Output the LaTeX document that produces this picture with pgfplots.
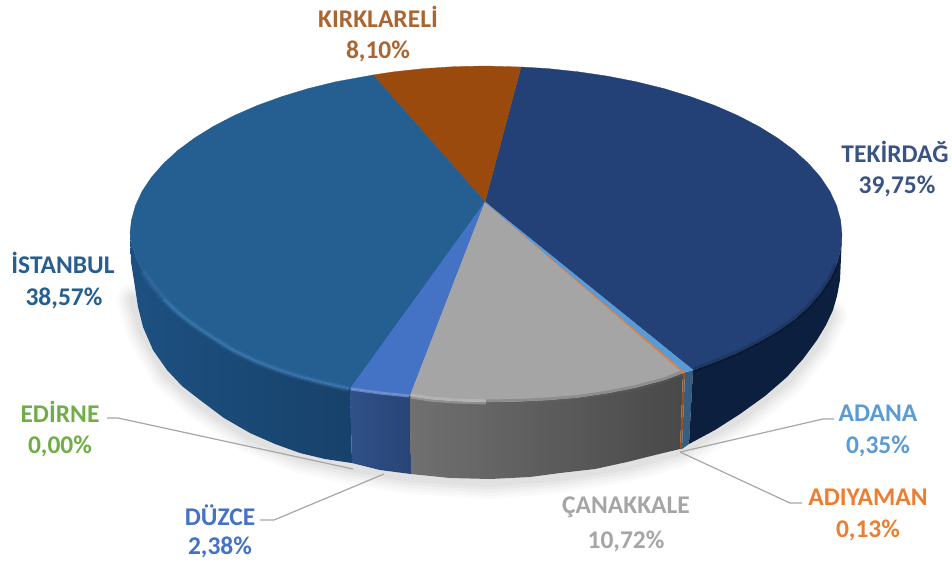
\documentclass[border=0pt]{standalone}
\usepackage{fontspec}
\setmainfont{Carlito}
\usepackage{pgfplots}
\pgfplotsset{compat=1.18}
\definecolor{tek}{HTML}{234176}
\definecolor{tekS}{HTML}{0D1F3E}
\definecolor{kir}{HTML}{9B4A0D}
\definecolor{ist}{HTML}{255E91}
\definecolor{istS}{HTML}{1B4D7D}
\definecolor{duz}{HTML}{4472C4}
\definecolor{can}{HTML}{A5A5A5}
\definecolor{ada}{HTML}{5B9BD5}
\definecolor{adi}{HTML}{ED7D31}
\definecolor{edi}{HTML}{70AD47}
\definecolor{lead}{HTML}{A6A6A6}
\def\shadowline#1#2{\addplot[draw=black,opacity=#2,line width=#1pt,line join=round,line cap=round] coordinates {
(134,300)(143,330)(167,373)(200,403)(250,436)(300,456)(350,467)(410,477)(490,482)(560,476)(627,465)(680,450)(740,417)(787,380)(817,343)(830,315)};}
\def\lab#1#2#3#4{\node[font=\fontsize{25.5}{28}\selectfont\bfseries,text=#1,inner sep=0pt,anchor=center] at (axis cs:#2,#3) {#4};}
\begin{document}
\begin{tikzpicture}
\begin{axis}[hide axis,scale only axis,width=952pt,height=563pt,
  xmin=0,xmax=952,ymin=0,ymax=563,y dir=reverse,clip=false]
% full canvas
\addplot[draw=none] coordinates {(0,0)(952,563)};
% soft shadow
\shadowline{34}{0.02}
\shadowline{28}{0.02}
\shadowline{22}{0.025}
\shadowline{16}{0.03}
\shadowline{10}{0.03}
% sides
\addplot[shade,left color=istS!80!ist,right color=istS!85!black,draw=none] coordinates {
(130,233)(132,245)(136,258)(143,271.5)(152,285)(164,299.5)(178,313)(195,326)(213,338)(234,351)(257,362)(278,370)(300,377)(325,383.5)(350,389)(352,463)(325,459)(300,453)(275,444)(250,433)(224,418)(200,400)(182,386)(167,370)(153,350)(143,327)(138,307)(135,287)(131,262)} -- cycle;
\addplot[shade,left color=duz!70!black,right color=duz!60!black,draw=none] coordinates {
(350,389)(380,393)(410,396)(411,474)(380,470)(352,463)} -- cycle;
\addplot[shade,left color=can!68!black,right color=can!44!black,draw=none] coordinates {
(410,396)(430,399)(455,401)(486,402)(517,401.5)(548,400)(578,397.5)(608,393)(636,387.5)(664,380)(683,373)(680,449)(655,455)(627,462)(595,469)(560,473)(530,477)(490,479)(450,478)(411,474)} -- cycle;
\addplot[fill=adi!65!black,draw=none] coordinates {(683,373)(685,372.3)(682,449)(680,449)} -- cycle;
\addplot[fill=ada!60!black,draw=none] coordinates {(685,372.3)(693,370)(689,444)(682,449)} -- cycle;
\addplot[fill=tekS,draw=none] coordinates {
(693,370)(714.8,362)(737.7,352.5)(758.7,342)(777.6,331)(794.3,319.5)(808.6,306.4)(820.5,292.8)(829.9,278.7)(836.6,264.3)(840.6,249.7)(842,235)(840,280)(837,296)(833,310)(826,325)(817,340)(803,359)(787,377)(765,396)(740,414)(715,430)(689,444)} -- cycle;
% top face
\addplot[fill=tek,draw=tek,line width=0.3pt] coordinates {
(485,202)(521,67)(547.8,68.6)(578.1,71.8)(607.8,76.2)(636.4,81.8)(664,88.6)(690.2,96.6)(714.8,105.5)(737.7,115.5)(758.7,126.4)(777.6,138.1)(794.3,150.5)(808.6,163.6)(820.5,177.2)(829.9,191.3)(836.6,205.7)(840.6,220.3)(842,235)(840.6,249.7)(836.6,264.3)(829.9,278.7)(820.5,292.8)(808.6,306.4)(794.3,319.5)(777.6,331)(758.7,342)(737.7,352.5)(714.8,362)(693,370)} -- cycle;
\addplot[fill=kir,draw=kir,line width=0.3pt] coordinates {
(485,202)(373,75)(393.9,71.8)(424.2,68.6)(455,66.6)(486,66)(521,67)} -- cycle;
\addplot[fill=ist,draw=ist,line width=0.3pt] coordinates {
(485,202)(350,389)(325,383.5)(300,377)(278,370)(257,362)(234,351)(213,338)(195,326)(178,313)(164,299.5)(152,285)(143,271.5)(136,258)(132,245)(130,233)(131.4,220.3)(135.4,205.7)(142.1,191.3)(151.5,177.2)(163.4,163.6)(177.7,150.5)(194.4,138.1)(213.3,126.4)(234.3,115.5)(257.2,105.5)(281.8,96.6)(308,88.6)(335.6,81.8)(373,75)} -- cycle;
\addplot[fill=duz,draw=duz,line width=0.3pt] coordinates {(485,202)(410,396)(380,393)(350,389)} -- cycle;
\addplot[fill=can,draw=can,line width=0.3pt] coordinates {
(485,202)(683,373)(664,380)(636,387.5)(608,393)(578,397.5)(548,400)(517,401.5)(486,402)(455,401)(430,399)(410,396)} -- cycle;
\addplot[fill=adi,draw=adi,line width=0.3pt] coordinates {(485,202)(685,372.3)(683,373)} -- cycle;
\addplot[fill=ada,draw=ada,line width=0.3pt] coordinates {(485,202)(693,370)(685,372.3)} -- cycle;
% rim highlights
\addplot[draw=ada!70!ist,opacity=0.2,line width=6pt,line join=round] coordinates {(143,271.5)(152,285)(164,299.5)(178,313)(195,326)(213,338)(234,351)(257,362)(278,370)(300,377)(325,383.5)(349,389)};
\addplot[draw=ada!70!ist,opacity=0.35,line width=3pt,line join=round] coordinates {(164,299.5)(178,313)(195,326)(213,338)(234,351)(257,362)(278,370)(300,377)(325,383.5)(349,389)};
\addplot[draw=duz!70!white,opacity=0.7,line width=3pt,line join=round] coordinates {(351,389)(380,393)(409,396)};
\addplot[draw=can!60!white,opacity=0.4,line width=5pt,line join=round] coordinates {(411,396)(430,399)(455,401)(486,402)};
\addplot[draw=can!60!black,opacity=0.35,line width=5pt,line join=round] coordinates {(486,402)(517,401.5)(548,400)(578,397.5)(608,393)(636,387.5)(664,380)(682,373)};
\addplot[draw=black,opacity=0.15,line width=5pt,line join=round] coordinates {(694,370)(714.8,362)(737.7,352.5)(758.7,342)(777.6,331)(794.3,319.5)(808.6,306.4)(820.5,292.8)(829.9,278.7)(836.6,264.3)};
% leader lines
\addplot[draw=lead,line width=1.2pt] coordinates {(107,418)(118,418)(353,469)};
\addplot[draw=lead,line width=1.2pt] coordinates {(260,520)(274,520)(384,474)};
\addplot[draw=lead,line width=1.2pt] coordinates {(834,419)(823,419)(680,452)};
\addplot[draw=lead,line width=1.2pt] coordinates {(680,452)(790,503)(802,503)};
% labels
\lab{kir!85!white}{378}{17}{KIRKLARELİ}
\lab{kir!85!white}{378}{51}{8,10\%}
\lab{tek!90!white}{895}{152}{TEKİRDAĞ}
\lab{tek!90!white}{897}{186}{39,75\%}
\lab{ist}{63}{263}{İSTANBUL}
\lab{ist}{64}{298}{38,57\%}
\lab{edi}{60}{412}{EDİRNE}
\lab{edi}{60}{446}{0,00\%}
\lab{duz}{220}{515}{DÜZCE}
\lab{duz}{220}{547}{2,38\%}
\lab{can}{626}{507}{ÇANAKKALE}
\lab{can}{626}{541}{10,72\%}
\lab{ada}{878}{413}{ADANA}
\lab{ada}{878}{446}{0,35\%}
\lab{adi}{868}{497}{ADIYAMAN}
\lab{adi}{868}{530}{0,13\%}
\end{axis}
\end{tikzpicture}
\end{document}
